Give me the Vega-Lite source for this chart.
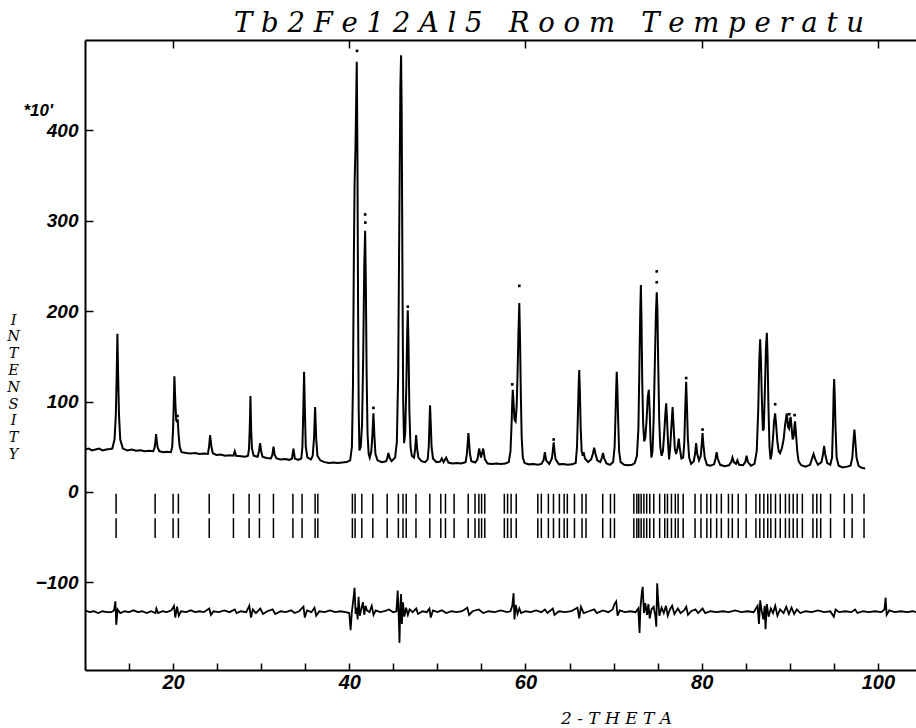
{
  "$schema": "https://vega.github.io/schema/vega-lite/v6.json",
  "width": 831,
  "height": 630,
  "autosize": "none",
  "padding": {"left": 85, "top": 40, "right": 0, "bottom": 58},
  "background": "white",
  "title": {
    "text": "T b 2 F e 1 2 A l 5 \u00a0 R o o m \u00a0 T e m p e r a t u",
    "anchor": "start",
    "frame": "group",
    "dx": 149,
    "offset": 2,
    "font": "DejaVu Serif",
    "fontStyle": "italic",
    "fontWeight": "normal",
    "fontSize": 27.5,
    "color": "black"
  },
  "config": {"view": {"stroke": null}, "axis": {"grid": false}},
  "resolve": {"axis": {"x": "independent"}},
  "datasets": {
    "calc": [
      {"x":10.0,"y":47},{"x":10.4,"y":48},{"x":10.8,"y":46},{"x":11.2,"y":47},{"x":11.6,"y":48},{"x":12.0,"y":46},{"x":12.4,"y":47},{"x":12.8,"y":47.5},
      {"x":13.1,"y":48},{"x":13.35,"y":58},{"x":13.5,"y":85},{"x":13.6,"y":130},{"x":13.68,"y":175},{"x":13.76,"y":130},{"x":13.86,"y":85},{"x":14.0,"y":58},{"x":14.3,"y":48},
      {"x":14.8,"y":46},{"x":15.3,"y":47},{"x":15.8,"y":45.5},{"x":16.3,"y":46},{"x":16.8,"y":45},{"x":17.3,"y":45.5},{"x":17.75,"y":45},
      {"x":17.9,"y":49},{"x":18.0,"y":56},{"x":18.07,"y":64},{"x":18.15,"y":56},{"x":18.25,"y":49},{"x":18.45,"y":45},
      {"x":18.9,"y":44},{"x":19.3,"y":44.5},{"x":19.75,"y":44},
      {"x":19.9,"y":50},{"x":20.0,"y":70},{"x":20.08,"y":100},{"x":20.15,"y":128},{"x":20.25,"y":100},{"x":20.35,"y":80},{"x":20.45,"y":78},{"x":20.52,"y":80},{"x":20.62,"y":64},{"x":20.75,"y":50},{"x":20.95,"y":44},
      {"x":21.5,"y":43},{"x":22.0,"y":42.5},{"x":22.5,"y":43},{"x":23.0,"y":42},{"x":23.5,"y":42.5},{"x":23.95,"y":42},
      {"x":24.08,"y":50},{"x":24.15,"y":57},{"x":24.2,"y":63},{"x":24.27,"y":57},{"x":24.35,"y":50},{"x":24.5,"y":43},
      {"x":24.9,"y":41},{"x":25.4,"y":41.5},{"x":25.9,"y":40},{"x":26.4,"y":40.5},{"x":26.85,"y":40},{"x":27.0,"y":45},{"x":27.15,"y":40},{"x":27.7,"y":39.5},{"x":28.2,"y":39},{"x":28.5,"y":40},
      {"x":28.62,"y":48},{"x":28.7,"y":70},{"x":28.78,"y":106},{"x":28.86,"y":70},{"x":28.95,"y":48},{"x":29.15,"y":40},
      {"x":29.6,"y":39},{"x":29.75,"y":45},{"x":29.88,"y":54},{"x":30.0,"y":45},{"x":30.15,"y":39},
      {"x":30.6,"y":37.5},{"x":31.1,"y":37},{"x":31.27,"y":41},{"x":31.4,"y":50},{"x":31.53,"y":41},{"x":31.75,"y":37},
      {"x":32.2,"y":36},{"x":32.7,"y":36.5},{"x":33.2,"y":35.5},{"x":33.5,"y":37},{"x":33.66,"y":48},{"x":33.82,"y":37},{"x":34.2,"y":35.5},
      {"x":34.55,"y":37},{"x":34.68,"y":50},{"x":34.78,"y":90},{"x":34.87,"y":133},{"x":34.96,"y":90},{"x":35.06,"y":50},{"x":35.25,"y":38},
      {"x":35.65,"y":36},{"x":35.85,"y":40},{"x":36.0,"y":60},{"x":36.12,"y":94},{"x":36.24,"y":60},{"x":36.38,"y":40},
      {"x":36.7,"y":35},{"x":37.2,"y":33},{"x":37.7,"y":32},{"x":38.2,"y":32.5},{"x":38.7,"y":32},{"x":39.2,"y":32.5},{"x":39.7,"y":33},
      {"x":40.1,"y":35},{"x":40.3,"y":50},{"x":40.42,"y":120},{"x":40.52,"y":260},{"x":40.6,"y":340},{"x":40.7,"y":380},{"x":40.78,"y":430},{"x":40.85,"y":476},{"x":40.92,"y":380},{"x":41.0,"y":200},{"x":41.07,"y":90},{"x":41.15,"y":46},
      {"x":41.3,"y":50},{"x":41.45,"y":75},{"x":41.58,"y":150},{"x":41.7,"y":250},{"x":41.8,"y":289},{"x":41.88,"y":230},{"x":41.97,"y":130},{"x":42.07,"y":65},{"x":42.2,"y":42},{"x":42.32,"y":38},
      {"x":42.5,"y":45},{"x":42.62,"y":62},{"x":42.74,"y":87},{"x":42.85,"y":62},{"x":42.97,"y":42},{"x":43.2,"y":35},
      {"x":43.7,"y":33},{"x":44.2,"y":34},{"x":44.32,"y":38},{"x":44.44,"y":43},{"x":44.56,"y":38},{"x":44.8,"y":34},
      {"x":45.2,"y":38},{"x":45.4,"y":55},{"x":45.55,"y":130},{"x":45.68,"y":300},{"x":45.8,"y":450},{"x":45.88,"y":483},{"x":45.95,"y":420},{"x":46.03,"y":250},{"x":46.12,"y":100},{"x":46.22,"y":54},
      {"x":46.35,"y":65},{"x":46.48,"y":120},{"x":46.57,"y":175},{"x":46.64,"y":201},{"x":46.72,"y":165},{"x":46.82,"y":90},{"x":46.95,"y":50},{"x":47.1,"y":40},
      {"x":47.35,"y":38},{"x":47.48,"y":48},{"x":47.59,"y":63},{"x":47.7,"y":48},{"x":47.85,"y":38},
      {"x":48.2,"y":34},{"x":48.6,"y":33},{"x":48.9,"y":36},{"x":49.02,"y":50},{"x":49.1,"y":75},{"x":49.17,"y":96},{"x":49.25,"y":75},{"x":49.34,"y":50},{"x":49.5,"y":37},
      {"x":49.9,"y":33},{"x":50.3,"y":33.5},{"x":50.5,"y":37},{"x":50.7,"y":33},{"x":51.0,"y":38},{"x":51.25,"y":32.5},{"x":51.7,"y":31.5},{"x":52.2,"y":32},{"x":52.7,"y":31.5},
      {"x":53.2,"y":33},{"x":53.35,"y":42},{"x":53.45,"y":55},{"x":53.52,"y":65},{"x":53.6,"y":55},{"x":53.7,"y":42},{"x":53.85,"y":34},
      {"x":54.3,"y":32.5},{"x":54.55,"y":36},{"x":54.74,"y":48},{"x":54.95,"y":38},{"x":55.2,"y":48},{"x":55.4,"y":36},
      {"x":55.7,"y":31.5},{"x":56.2,"y":31},{"x":56.7,"y":31.5},{"x":57.2,"y":31},{"x":57.7,"y":31.5},
      {"x":58.1,"y":33},{"x":58.3,"y":45},{"x":58.42,"y":75},{"x":58.5,"y":100},{"x":58.56,"y":113},{"x":58.64,"y":100},{"x":58.75,"y":80},{"x":58.88,"y":78},{"x":59.0,"y":95},{"x":59.1,"y":130},{"x":59.2,"y":175},{"x":59.3,"y":209},{"x":59.38,"y":170},{"x":59.47,"y":110},{"x":59.57,"y":60},{"x":59.7,"y":38},
      {"x":59.9,"y":32},{"x":60.4,"y":30.5},{"x":60.9,"y":31},{"x":61.4,"y":30},{"x":61.8,"y":31},
      {"x":62.05,"y":35},{"x":62.2,"y":44},{"x":62.35,"y":35},{"x":62.7,"y":31},{"x":63.0,"y":37},{"x":63.1,"y":45},{"x":63.2,"y":55},{"x":63.3,"y":45},{"x":63.42,"y":36},
      {"x":63.8,"y":30.5},{"x":64.3,"y":31},{"x":64.8,"y":30},{"x":65.3,"y":30.5},{"x":65.7,"y":32},
      {"x":65.85,"y":50},{"x":65.95,"y":85},{"x":66.03,"y":115},{"x":66.1,"y":135},{"x":66.18,"y":110},{"x":66.27,"y":70},{"x":66.38,"y":45},{"x":66.5,"y":40},{"x":66.6,"y":44},{"x":66.75,"y":37},
      {"x":67.1,"y":33},{"x":67.45,"y":36},{"x":67.65,"y":42},{"x":67.8,"y":49},{"x":67.95,"y":42},{"x":68.15,"y":35},{"x":68.5,"y":33},{"x":68.68,"y":38},{"x":68.8,"y":43},{"x":68.93,"y":37},
      {"x":69.2,"y":31.5},{"x":69.6,"y":30},{"x":69.95,"y":33},{"x":70.12,"y":50},{"x":70.22,"y":85},{"x":70.3,"y":115},{"x":70.36,"y":133},{"x":70.43,"y":115},{"x":70.52,"y":80},{"x":70.63,"y":45},{"x":70.8,"y":33},
      {"x":71.2,"y":30},{"x":71.7,"y":29.5},{"x":72.1,"y":30},{"x":72.4,"y":32},{"x":72.65,"y":40},
      {"x":72.82,"y":70},{"x":72.95,"y":150},{"x":73.03,"y":200},{"x":73.1,"y":229},{"x":73.17,"y":190},{"x":73.26,"y":120},{"x":73.36,"y":75},{"x":73.48,"y":56},{"x":73.6,"y":60},{"x":73.75,"y":80},{"x":73.88,"y":105},{"x":74.0,"y":113},{"x":74.1,"y":90},{"x":74.2,"y":55},{"x":74.3,"y":38},
      {"x":74.42,"y":45},{"x":74.55,"y":80},{"x":74.68,"y":140},{"x":74.8,"y":195},{"x":74.9,"y":221},{"x":74.98,"y":200},{"x":75.07,"y":140},{"x":75.18,"y":80},{"x":75.3,"y":50},{"x":75.45,"y":40},
      {"x":75.6,"y":45},{"x":75.75,"y":65},{"x":75.87,"y":85},{"x":75.97,"y":98},{"x":76.07,"y":80},{"x":76.18,"y":55},{"x":76.3,"y":36},{"x":76.42,"y":48},{"x":76.55,"y":70},{"x":76.7,"y":94},{"x":76.82,"y":72},{"x":76.95,"y":48},
      {"x":77.1,"y":42},{"x":77.25,"y":48},{"x":77.4,"y":59},{"x":77.52,"y":48},{"x":77.7,"y":37},{"x":77.9,"y":38},{"x":78.03,"y":55},{"x":78.13,"y":90},{"x":78.24,"y":122},{"x":78.33,"y":95},{"x":78.43,"y":60},{"x":78.58,"y":38},
      {"x":78.8,"y":31},{"x":79.1,"y":34},{"x":79.25,"y":42},{"x":79.37,"y":54},{"x":79.5,"y":42},{"x":79.7,"y":35},{"x":79.9,"y":40},{"x":80.0,"y":52},{"x":80.1,"y":65},{"x":80.2,"y":52},{"x":80.35,"y":38},
      {"x":80.6,"y":30},{"x":81.0,"y":29},{"x":81.4,"y":30.5},{"x":81.58,"y":37},{"x":81.7,"y":44},{"x":81.82,"y":37},{"x":82.1,"y":30},{"x":82.6,"y":28.5},{"x":83.1,"y":29.5},
      {"x":83.35,"y":33},{"x":83.5,"y":38},{"x":83.65,"y":33},{"x":83.9,"y":31},{"x":84.06,"y":35},{"x":84.25,"y":30},{"x":84.7,"y":29.5},{"x":84.95,"y":33},{"x":85.1,"y":40},{"x":85.25,"y":33},
      {"x":85.6,"y":29},{"x":86.0,"y":31},{"x":86.25,"y":45},{"x":86.42,"y":90},{"x":86.54,"y":145},{"x":86.64,"y":169},{"x":86.73,"y":145},{"x":86.84,"y":100},{"x":86.95,"y":68},{"x":87.05,"y":70},{"x":87.17,"y":110},{"x":87.3,"y":160},{"x":87.4,"y":176},{"x":87.48,"y":150},{"x":87.58,"y":95},{"x":87.7,"y":50},{"x":87.82,"y":36},
      {"x":87.95,"y":42},{"x":88.1,"y":60},{"x":88.22,"y":78},{"x":88.34,"y":87},{"x":88.45,"y":75},{"x":88.6,"y":55},{"x":88.75,"y":45},{"x":88.9,"y":43},{"x":89.1,"y":48},{"x":89.3,"y":58},{"x":89.48,"y":75},{"x":89.66,"y":87},{"x":89.8,"y":72},{"x":89.92,"y":70},{"x":90.03,"y":80},{"x":90.1,"y":83},{"x":90.2,"y":72},{"x":90.33,"y":58},{"x":90.45,"y":62},{"x":90.55,"y":75},{"x":90.6,"y":78},{"x":90.7,"y":65},{"x":90.85,"y":45},{"x":91.0,"y":34},
      {"x":91.3,"y":29.5},{"x":91.8,"y":28},{"x":92.3,"y":30},{"x":92.5,"y":36},{"x":92.7,"y":42},{"x":92.9,"y":36},{"x":93.2,"y":30},{"x":93.6,"y":33},{"x":93.78,"y":42},{"x":93.9,"y":51},{"x":94.02,"y":42},{"x":94.25,"y":32},
      {"x":94.6,"y":30},{"x":94.8,"y":38},{"x":94.92,"y":80},{"x":94.98,"y":110},{"x":95.04,"y":125},{"x":95.11,"y":105},{"x":95.2,"y":70},{"x":95.32,"y":38},{"x":95.55,"y":29},
      {"x":96.0,"y":27},{"x":96.5,"y":28},{"x":96.9,"y":29},{"x":97.1,"y":38},{"x":97.22,"y":55},{"x":97.34,"y":69},{"x":97.45,"y":55},{"x":97.58,"y":38},{"x":97.8,"y":29},{"x":98.1,"y":27},{"x":98.3,"y":26.5},{"x":98.56,"y":26}
    ],
    "obs": [
      {"x":20.5,"y":84},{"x":20.45,"y":79},{"x":40.88,"y":488},{"x":41.8,"y":307},{"x":41.82,"y":298},{"x":42.74,"y":93},{"x":46.64,"y":205},{"x":58.5,"y":119},{"x":59.3,"y":228},{"x":63.2,"y":58},{"x":74.9,"y":244},{"x":74.9,"y":232},{"x":78.24,"y":126},{"x":80.1,"y":69},{"x":88.34,"y":97},{"x":89.95,"y":86},{"x":90.55,"y":85}
    ],
    "refl": [
      {"x":13.53},{"x":17.96},{"x":20.0},{"x":20.6},{"x":24.1},{"x":26.85},{"x":28.63},{"x":29.8},{"x":31.39},{"x":33.6},{"x":34.64},{"x":36.12},{"x":36.43},
      {"x":40.35},{"x":40.66},{"x":41.42},{"x":42.67},{"x":44.3},{"x":45.57},{"x":46.1},{"x":46.46},{"x":47.57},{"x":49.14},{"x":50.39},{"x":50.92},{"x":51.9},
      {"x":53.5},{"x":54.27},{"x":54.71},{"x":55.02},{"x":55.38},{"x":57.6},{"x":57.97},{"x":58.37},{"x":58.95},
      {"x":61.4},{"x":61.8},{"x":62.6},{"x":63.18},{"x":63.85},{"x":64.39},{"x":64.75},{"x":65.56},{"x":66.42},{"x":66.87},{"x":68.77},{"x":69.65},{"x":70.1},
      {"x":72.3},{"x":72.64},{"x":72.86},{"x":73.13},{"x":73.44},{"x":73.76},{"x":74.11},{"x":74.56},{"x":75.23},{"x":75.81},{"x":76.12},{"x":76.57},{"x":77.01},{"x":77.33},{"x":77.9},
      {"x":79.25},{"x":79.92},{"x":80.59},{"x":81.03},{"x":81.7},{"x":82.23},{"x":83.04},{"x":83.48},{"x":84.15},{"x":85.05},
      {"x":86.16},{"x":86.6},{"x":87.06},{"x":87.5},{"x":87.85},{"x":88.38},{"x":88.92},{"x":89.51},{"x":89.95},{"x":90.39},{"x":90.84},{"x":91.43},
      {"x":92.63},{"x":93.07},{"x":93.51},{"x":94.63},{"x":96.19},{"x":97.08},{"x":98.43}
    ],
    "diff": [
      {"x":10,"y":-131},{"x":10.5,"y":-133},{"x":11,"y":-132},{"x":11.5,"y":-134},{"x":12,"y":-132},{"x":12.5,"y":-133},{"x":13,"y":-133},{"x":13.3,"y":-131},{"x":13.45,"y":-121},{"x":13.55,"y":-147},{"x":13.7,"y":-130},{"x":14,"y":-134},{"x":14.5,"y":-132},{"x":15,"y":-133},{"x":15.5,"y":-131},{"x":16,"y":-133},{"x":16.5,"y":-132},{"x":17,"y":-134},{"x":17.5,"y":-132},{"x":18,"y":-134},{"x":18.1,"y":-129},{"x":18.3,"y":-134},{"x":18.8,"y":-132},{"x":19.3,"y":-133},{"x":19.8,"y":-131},{"x":20.1,"y":-126},{"x":20.25,"y":-139},{"x":20.45,"y":-127},{"x":20.65,"y":-137},{"x":20.9,"y":-132},
      {"x":21.5,"y":-133},{"x":22,"y":-131},{"x":22.5,"y":-133},{"x":23,"y":-132},{"x":23.5,"y":-133},{"x":24.1,"y":-129},{"x":24.3,"y":-136},{"x":24.6,"y":-132},{"x":25.2,"y":-133},{"x":25.8,"y":-131},{"x":26.4,"y":-133},{"x":27,"y":-130},{"x":27.2,"y":-134},{"x":27.7,"y":-132},{"x":28.3,"y":-133},{"x":28.65,"y":-126},{"x":28.85,"y":-139},{"x":29.05,"y":-130},{"x":29.4,"y":-134},{"x":29.9,"y":-129},{"x":30.2,"y":-135},{"x":30.7,"y":-132},
      {"x":31.3,"y":-130},{"x":31.6,"y":-135},{"x":32.2,"y":-132},{"x":32.8,"y":-133},{"x":33.4,"y":-131},{"x":33.8,"y":-134},{"x":34.3,"y":-132},{"x":34.8,"y":-127},{"x":34.95,"y":-139},{"x":35.2,"y":-131},{"x":35.7,"y":-133},{"x":36.05,"y":-128},{"x":36.25,"y":-137},{"x":36.6,"y":-132},{"x":37.2,"y":-133},{"x":37.8,"y":-131},{"x":38.4,"y":-133},{"x":39,"y":-132},{"x":39.6,"y":-133},
      {"x":40.0,"y":-134},{"x":40.15,"y":-153},{"x":40.3,"y":-132},{"x":40.45,"y":-120},{"x":40.6,"y":-106},{"x":40.72,"y":-135},{"x":40.82,"y":-128},{"x":40.95,"y":-141},{"x":41.05,"y":-116},{"x":41.2,"y":-137},{"x":41.4,"y":-128},{"x":41.55,"y":-122},{"x":41.7,"y":-136},{"x":41.85,"y":-126},{"x":42.0,"y":-131},{"x":42.3,"y":-133},{"x":42.55,"y":-126},{"x":42.75,"y":-136},{"x":43.0,"y":-131},{"x":43.5,"y":-133},{"x":44.0,"y":-132},{"x":44.5,"y":-130},{"x":45.0,"y":-133},
      {"x":45.35,"y":-132},{"x":45.5,"y":-109},{"x":45.62,"y":-140},{"x":45.7,"y":-167},{"x":45.8,"y":-125},{"x":45.88,"y":-113},{"x":45.97,"y":-146},{"x":46.1,"y":-122},{"x":46.25,"y":-138},{"x":46.45,"y":-128},{"x":46.65,"y":-136},{"x":46.85,"y":-130},{"x":47.2,"y":-133},{"x":47.6,"y":-129},{"x":47.8,"y":-135},{"x":48.3,"y":-132},{"x":48.8,"y":-133},{"x":49.1,"y":-129},{"x":49.25,"y":-139},{"x":49.5,"y":-131},
      {"x":50,"y":-133},{"x":50.5,"y":-131},{"x":51,"y":-134},{"x":51.6,"y":-132},{"x":52.2,"y":-133},{"x":52.8,"y":-132},{"x":53.4,"y":-128},{"x":53.6,"y":-136},{"x":54,"y":-132},{"x":54.7,"y":-130},{"x":55.2,"y":-134},{"x":55.8,"y":-132},{"x":56.5,"y":-133},{"x":57.2,"y":-131},{"x":57.9,"y":-133},{"x":58.3,"y":-132},{"x":58.5,"y":-126},{"x":58.65,"y":-112},{"x":58.75,"y":-141},{"x":58.9,"y":-125},{"x":59.1,"y":-135},{"x":59.3,"y":-129},{"x":59.5,"y":-134},
      {"x":60,"y":-132},{"x":60.6,"y":-133},{"x":61.2,"y":-131},{"x":61.8,"y":-133},{"x":62.2,"y":-130},{"x":62.5,"y":-134},{"x":63.1,"y":-129},{"x":63.3,"y":-136},{"x":63.8,"y":-132},{"x":64.5,"y":-133},{"x":65.2,"y":-132},{"x":65.9,"y":-128},{"x":66.1,"y":-140},{"x":66.3,"y":-127},{"x":66.6,"y":-134},{"x":67.2,"y":-132},{"x":67.8,"y":-130},{"x":68.1,"y":-134},{"x":68.8,"y":-131},{"x":69.4,"y":-133},{"x":69.9,"y":-130},
      {"x":70.1,"y":-124},{"x":70.3,"y":-121},{"x":70.45,"y":-137},{"x":70.7,"y":-131},{"x":71.3,"y":-133},{"x":71.9,"y":-132},{"x":72.5,"y":-133},{"x":72.8,"y":-129},{"x":72.95,"y":-156},{"x":73.05,"y":-128},{"x":73.2,"y":-112},{"x":73.3,"y":-105},{"x":73.45,"y":-134},{"x":73.6,"y":-123},{"x":73.8,"y":-136},{"x":73.95,"y":-124},{"x":74.1,"y":-140},{"x":74.3,"y":-130},{"x":74.55,"y":-127},{"x":74.75,"y":-138},{"x":74.85,"y":-149},{"x":74.95,"y":-101},{"x":75.05,"y":-118},{"x":75.2,"y":-137},{"x":75.45,"y":-128},{"x":75.7,"y":-134},{"x":75.95,"y":-126},{"x":76.15,"y":-137},{"x":76.4,"y":-130},{"x":76.65,"y":-126},{"x":76.9,"y":-135},{"x":77.3,"y":-129},{"x":77.6,"y":-134},{"x":78.0,"y":-131},{"x":78.25,"y":-127},{"x":78.45,"y":-136},{"x":78.8,"y":-132},{"x":79.3,"y":-130},{"x":79.6,"y":-134},
      {"x":80.1,"y":-129},{"x":80.4,"y":-134},{"x":81,"y":-132},{"x":81.7,"y":-133},{"x":82.4,"y":-132},{"x":83.1,"y":-133},{"x":83.8,"y":-131},{"x":84.5,"y":-133},{"x":85.2,"y":-132},{"x":85.9,"y":-133},{"x":86.35,"y":-126},{"x":86.5,"y":-146},{"x":86.65,"y":-120},{"x":86.8,"y":-131},{"x":87.0,"y":-141},{"x":87.15,"y":-126},{"x":87.25,"y":-152},{"x":87.4,"y":-124},{"x":87.6,"y":-138},{"x":87.85,"y":-129},{"x":88.1,"y":-134},{"x":88.35,"y":-126},{"x":88.6,"y":-137},{"x":88.9,"y":-130},{"x":89.3,"y":-134},{"x":89.6,"y":-127},{"x":89.9,"y":-135},
      {"x":90.2,"y":-128},{"x":90.5,"y":-135},{"x":90.8,"y":-130},{"x":91.2,"y":-134},{"x":91.8,"y":-132},{"x":92.5,"y":-133},{"x":93.2,"y":-131},{"x":93.9,"y":-133},{"x":94.6,"y":-132},{"x":95.0,"y":-138},{"x":95.2,"y":-130},{"x":95.6,"y":-133},{"x":96.3,"y":-132},{"x":97.0,"y":-133},{"x":97.4,"y":-130},{"x":97.7,"y":-134},{"x":98.3,"y":-132},{"x":99,"y":-133},{"x":99.7,"y":-132},
      {"x":100.4,"y":-133},{"x":100.75,"y":-130},{"x":100.88,"y":-117},{"x":101.0,"y":-136},{"x":101.3,"y":-131},{"x":101.9,"y":-133},{"x":102.6,"y":-132},{"x":103.3,"y":-133},{"x":104.0,"y":-132},{"x":104.33,"y":-133}
    ]
  },
  "layer": [
    {
      "data": {"name": "calc"},
      "mark": {"type": "line", "color": "black", "strokeWidth": 2, "clip": true},
      "encoding": {
        "x": {
          "field": "x", "type": "quantitative",
          "scale": {"domain": [10, 104.33], "nice": false, "zero": false},
          "axis": {
            "orient": "bottom",
            "values": [15,20,25,30,35,40,45,50,55,60,65,70,75,80,85,90,95,100],
            "labelExpr": "datum.value % 20 === 0 ? datum.label : ''",
            "domainColor": "black", "domainWidth": 2,
            "tickColor": "black", "tickWidth": 1.5, "tickSize": -7,
            "labelFont": "Liberation Sans", "labelFontWeight": "bold", "labelFontStyle": "italic", "labelFontSize": 20, "labelColor": "black",
            "labelPadding": 9, "labelFlush": false, "labelOverlap": false,
            "title": "2 - T H E T A",
            "titleFont": "DejaVu Serif", "titleFontStyle": "italic", "titleFontWeight": "normal", "titleFontSize": 17, "titleColor": "black",
            "titleX": 531, "titleY": 48, "titleAlign": "center", "titleBaseline": "middle"
          }
        },
        "y": {
          "field": "y", "type": "quantitative",
          "scale": {"domain": [-197, 500], "nice": false, "zero": false},
          "axis": {
            "orient": "left",
            "values": [-100,0,100,200,300,400],
            "domainColor": "black", "domainWidth": 2,
            "tickColor": "black",
            "tickWidth": 1.5, "tickSize": -8,
            "labelFont": "Liberation Sans", "labelFontWeight": "bold", "labelFontStyle": "italic", "labelFontSize": 19, "labelColor": "black",
            "labelPadding": 15, "labelFlush": false, "labelOverlap": false,
            "title": ["I","N","T","E","N","S","I","T","Y"],
            "titleAngle": 0, "titleFont": "DejaVu Serif", "titleFontStyle": "italic", "titleFontWeight": "normal", "titleFontSize": 14.5, "titleLineHeight": 16.8, "titleColor": "black",
            "titleX": -72, "titleY": 273, "titleAlign": "center", "titleBaseline": "top"
          }
        }
      }
    },
    {
      "data": {"name": "obs"},
      "mark": {"type": "square", "size": 7, "color": "black", "opacity": 1},
      "encoding": {
        "x": {"field": "x", "type": "quantitative", "axis": null},
        "y": {"field": "y", "type": "quantitative"}
      }
    },
    {
      "data": {"name": "refl"},
      "mark": {"type": "rule", "color": "black", "strokeWidth": 1.5},
      "encoding": {
        "x": {"field": "x", "type": "quantitative", "axis": null},
        "y": {"datum": -2, "type": "quantitative"},
        "y2": {"datum": -24}
      }
    },
    {
      "data": {"name": "refl"},
      "mark": {"type": "rule", "color": "black", "strokeWidth": 1.5},
      "encoding": {
        "x": {
          "field": "x", "type": "quantitative",
          "axis": {
            "orient": "top", "values": [20,40,60,80,100], "labels": false,
            "domainColor": "black", "domainWidth": 2,
            "tickColor": "black", "tickWidth": 1.5, "tickSize": -8,
            "title": null, "grid": false
          }
        },
        "y": {"datum": -29, "type": "quantitative"},
        "y2": {"datum": -51}
      }
    },
    {
      "data": {"name": "diff"},
      "mark": {"type": "line", "color": "black", "strokeWidth": 1.8, "clip": true},
      "encoding": {
        "x": {"field": "x", "type": "quantitative", "axis": null},
        "y": {"field": "y", "type": "quantitative"}
      }
    },
    {
      "data": {"values": [{}]},
      "mark": {"type": "text", "align": "right", "baseline": "middle", "dx": -32, "font": "Liberation Sans", "fontWeight": "bold", "fontStyle": "italic", "fontSize": 17, "color": "black"},
      "encoding": {
        "x": {"datum": 10, "type": "quantitative", "axis": null},
        "y": {"datum": 421, "type": "quantitative"},
        "text": {"value": "*10'"}
      }
    }
  ]
}
